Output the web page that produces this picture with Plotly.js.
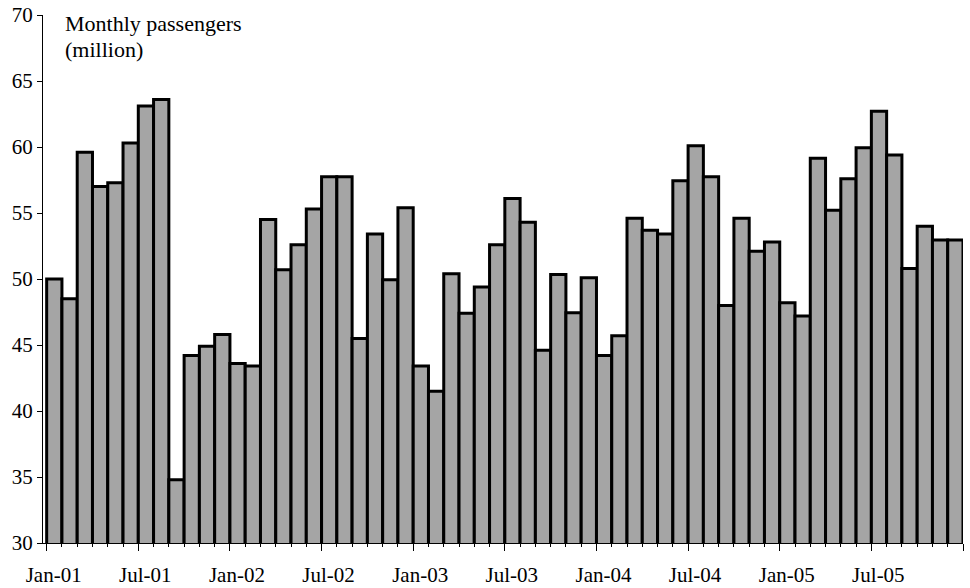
<!DOCTYPE html>
<html>
<head>
<meta charset="utf-8">
<script src="https://cdn.plot.ly/plotly-3.0.1.min.js"></script>
<style>
  html, body { margin: 0; padding: 0; background: #ffffff; }
  #chart { width: 970px; height: 588px; }
</style>
</head>
<body>
<div id="chart"></div>
<script>
const months = [
  'Jan-01','Feb-01','Mar-01','Apr-01','May-01','Jun-01','Jul-01','Aug-01','Sep-01','Oct-01','Nov-01','Dec-01',
  'Jan-02','Feb-02','Mar-02','Apr-02','May-02','Jun-02','Jul-02','Aug-02','Sep-02','Oct-02','Nov-02','Dec-02',
  'Jan-03','Feb-03','Mar-03','Apr-03','May-03','Jun-03','Jul-03','Aug-03','Sep-03','Oct-03','Nov-03','Dec-03',
  'Jan-04','Feb-04','Mar-04','Apr-04','May-04','Jun-04','Jul-04','Aug-04','Sep-04','Oct-04','Nov-04','Dec-04',
  'Jan-05','Feb-05','Mar-05','Apr-05','May-05','Jun-05','Jul-05','Aug-05','Sep-05','Oct-05','Nov-05','Dec-05'
];
const passengers = [
  50.0, 48.5, 59.6, 57.0, 57.3, 60.3, 63.1, 63.6, 34.8, 44.2, 44.9, 45.8,
  43.6, 43.4, 54.5, 50.7, 52.6, 55.3, 57.75, 57.75, 45.5, 53.4, 49.95, 55.4,
  43.4, 41.5, 50.4, 47.4, 49.4, 52.6, 56.1, 54.3, 44.6, 50.35, 47.45, 50.1,
  44.2, 45.7, 54.6, 53.7, 53.4, 57.45, 60.1, 57.75, 48.0, 54.6, 52.1, 52.8,
  48.2, 47.2, 59.15, 55.2, 57.6, 59.95, 62.7, 59.4, 50.8, 54.0, 52.95, 52.95
];
const tickLabels = ['Jan-01','Jul-01','Jan-02','Jul-02','Jan-03','Jul-03','Jan-04','Jul-04','Jan-05','Jul-05',''];
const yTicks = [30, 35, 40, 45, 50, 55, 60, 65, 70];
const yTitleLines = ['Monthly passengers', '(million)'];

// bar positions: month index on a linear axis, each bar one unit wide, centred mid-month
const xPos = months.map((m, i) => i + 0.5);
const tickPos = tickLabels.map((t, i) => i * 6);

const serif = 'Liberation Serif, Times New Roman, Times, serif';
const font = { family: serif, size: 21, color: '#000000' };
const titleFont = { family: serif, size: 22, color: '#000000' };

const trace = {
  type: 'bar',
  x: xPos,
  y: passengers,
  width: 1,
  text: months,
  hoverinfo: 'text+y',
  textposition: 'none',
  marker: { color: '#a5a5a5', line: { color: '#000000', width: 3 } }
};

const layout = {
  width: 970, height: 588,
  margin: { l: 43, r: 7, t: 15, b: 45, pad: 0 },
  paper_bgcolor: '#ffffff',
  plot_bgcolor: '#ffffff',
  font: font,
  showlegend: false,
  bargap: 0,
  xaxis: {
    type: 'linear',
    range: [-0.24, 60],
    tickmode: 'array',
    tickvals: tickPos,
    ticktext: tickLabels,
    ticks: 'outside', ticklen: 7, tickwidth: 1, tickcolor: '#000',
    ticklabelshift: 7,
    ticklabelstandoff: 6,
    minor: { dtick: 1, tick0: 0, ticks: 'outside', ticklen: 3, tickwidth: 1, tickcolor: '#000', showgrid: false },
    showline: true, linecolor: '#000', linewidth: 1,
    showgrid: false, zeroline: false,
    tickfont: font,
    fixedrange: true
  },
  yaxis: {
    range: [30, 70],
    tickmode: 'array',
    tickvals: yTicks,
    ticktext: yTicks.map(String),
    ticks: 'outside', ticklen: 5, tickwidth: 1, tickcolor: '#000',
    showline: true, linecolor: '#000', linewidth: 1,
    showgrid: false, zeroline: false,
    tickfont: font,
    fixedrange: true
  },
  annotations: [
    { text: yTitleLines[0], xref: 'paper', yref: 'paper', x: 0.0217, y: 0.983, xanchor: 'left', yanchor: 'middle', showarrow: false, font: titleFont },
    { text: yTitleLines[1], xref: 'paper', yref: 'paper', x: 0.0217, y: 0.934, xanchor: 'left', yanchor: 'middle', showarrow: false, font: titleFont }
  ]
};

Plotly.newPlot('chart', [trace], layout, { displayModeBar: false, staticPlot: true });
</script>
</body>
</html>
